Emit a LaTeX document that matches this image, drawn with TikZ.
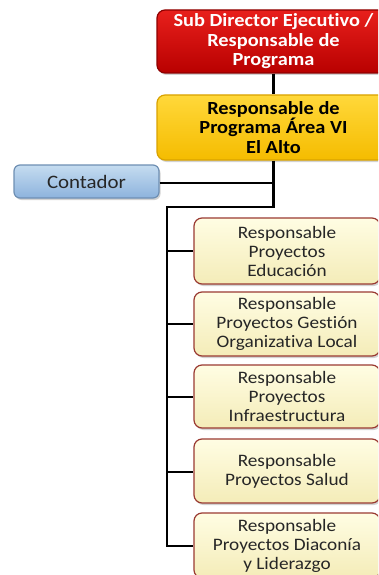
\documentclass[tikz,border=0pt]{standalone}
\usepackage{fontspec}
\setmainfont{Carlito}[FakeStretch=1.1, Ligatures={NoCommon}]
\usetikzlibrary{shadows}
\definecolor{redtop}{HTML}{E8201C}
\definecolor{redbot}{HTML}{B80000}
\definecolor{redline}{HTML}{8E0000}
\definecolor{yeltop}{HTML}{FFD83A}
\definecolor{yelbot}{HTML}{F5BC00}
\definecolor{yelline}{HTML}{D9A200}
\definecolor{bluetop}{HTML}{C5DCF0}
\definecolor{bluebot}{HTML}{8DB3DD}
\definecolor{blueline}{HTML}{6E8FB3}
\definecolor{creamtop}{HTML}{FFFDE3}
\definecolor{creambot}{HTML}{F4ECB8}
\definecolor{creamline}{HTML}{9A3A32}
\tikzset{
  box/.style={rounded corners=8pt, line width=1.2pt, align=center, inner sep=0pt,
    font=\fontsize{17.5}{19}\selectfont,
    drop shadow={opacity=0.35, shadow xshift=1.5pt, shadow yshift=-2pt}},
  redbox/.style={box, top color=redtop, bottom color=redbot, draw=redline, text=white,
    font=\fontsize{18.5}{19.5}\selectfont\bfseries, minimum width=233pt, minimum height=63pt},
  yelbox/.style={box, top color=yeltop, bottom color=yelbot, draw=yelline, text=black,
    font=\fontsize{18.5}{19.5}\selectfont\bfseries, minimum width=233pt, minimum height=65pt},
  bluebox/.style={box, top color=bluetop, bottom color=bluebot, draw=blueline, text=black!85,
    font=\fontsize{19}{20}\selectfont, minimum width=145pt, minimum height=33pt, rounded corners=6pt},
  creambox/.style={box, top color=creamtop, bottom color=creambot, draw=creamline, text=black!85,
    minimum width=186pt, minimum height=64pt},
  link/.style={line width=2.6pt, black}
}
\begin{document}
\begin{tikzpicture}[x=1pt,y=-1pt]
\useasboundingbox (0,0) rectangle (378,575);
\clip (0,0) rectangle (378,575);
\fill[white] (0,0) rectangle (378,575);

\node[redbox] (dir) at (273.5,41.5) {Sub Director Ejecutivo /\\Responsable de\\Programa};
\node[yelbox] (resp) at (273.5,127.5) {Responsable de\\Programa Área VI\\El Alto};
\node[bluebox] (cont) at (86.5,181.5) {Contador};

\node[creambox, minimum height=66pt] (c1) at (287,251) {Responsable\\Proyectos\\Educación};
\node[creambox] (c2) at (287,324) {Responsable\\Proyectos Gestión\\Organizativa Local};
\node[creambox, minimum height=63pt] (c3) at (287,396.5) {Responsable\\Proyectos\\Infraestructura};
\node[creambox] (c4) at (287,471) {Responsable\\Proyectos Salud};
\node[creambox, minimum height=65pt] (c5) at (287,545.5) {Responsable\\Proyectos Diaconía\\y Liderazgo};

\coordinate (j1) at (273.5,207);
\coordinate (j2) at (167,207);
\coordinate (t1) at (167,251);
\coordinate (t2) at (167,324);
\coordinate (t3) at (167,397);
\coordinate (t4) at (167,472);
\coordinate (t5) at (167,546);
\coordinate (cj) at (273.5,183);

\draw[link] (dir.south -| j1) -- (resp.north -| j1);
\draw[link] (resp.south -| j1) -- (j1) -- (j2) -- (t5) -- (t5 -| c5.west);
\draw[link] (cont.east |- cj) -- (cj);
\draw[link] (t1) -- (t1 -| c1.west);
\draw[link] (t2) -- (t2 -| c2.west);
\draw[link] (t3) -- (t3 -| c3.west);
\draw[link] (t4) -- (t4 -| c4.west);
\end{tikzpicture}
\end{document}
